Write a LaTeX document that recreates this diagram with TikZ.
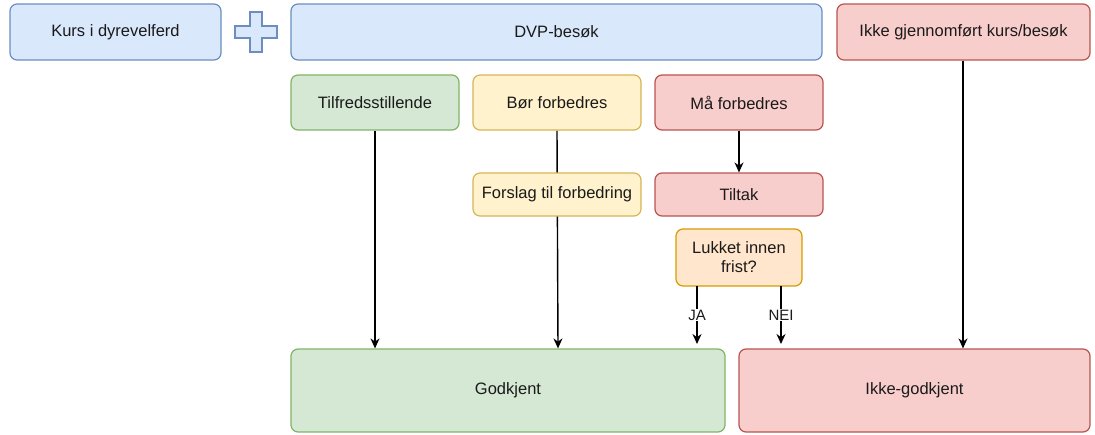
\documentclass[tikz,border=0pt]{standalone}
\usepackage{fontspec}
\setmainfont{Liberation Sans}
\usetikzlibrary{arrows.meta,backgrounds}
\definecolor{bfill}{HTML}{DAE8FC}\definecolor{bdraw}{HTML}{6C8EBF}
\definecolor{gfill}{HTML}{D5E8D4}\definecolor{gdraw}{HTML}{82B366}
\definecolor{yfill}{HTML}{FFF2CC}\definecolor{ydraw}{HTML}{D6B656}
\definecolor{rfill}{HTML}{F8CECC}\definecolor{rdraw}{HTML}{B85450}
\definecolor{ofill}{HTML}{FFE6CC}\definecolor{odraw}{HTML}{D79B00}
\definecolor{txt}{HTML}{1A1A1A}
\tikzset{
  box/.style={rectangle, rounded corners=7pt, line width=1.2pt, inner sep=0pt, align=center, text=txt,
    font=\fontsize{16.5}{19}\selectfont},
  blue/.style={box, fill=bfill, draw=bdraw},
  green/.style={box, fill=gfill, draw=gdraw},
  yellow/.style={box, fill=yfill, draw=ydraw},
  red/.style={box, fill=rfill, draw=rdraw},
  orange/.style={box, fill=ofill, draw=odraw},
  conn/.style={line width=1.4pt, draw=black, -{Stealth[length=10pt,width=9pt]}},
  lbl/.style={fill=white, inner sep=1pt, text=txt, font=\fontsize{15}{17}\selectfont}
}
\begin{document}
\begin{tikzpicture}[x=1pt,y=-1pt]
\useasboundingbox (0,0) rectangle (1095,434);
% top row
\node[blue, minimum width=211pt, minimum height=56pt] (kurs) at (115.5,32) {Kurs i dyrevelferd};
\path[fill=bfill, draw=bdraw, line width=1.2pt] (250,12) -- (262,12) -- (262,26) -- (277,26) -- (277,38) -- (262,38) -- (262,52) -- (250,52) -- (250,38) -- (235,38) -- (235,26) -- (250,26) -- cycle;
\node[blue, minimum width=531pt, minimum height=56pt] (dvp) at (556.5,32) {DVP-besøk};
\node[red, minimum width=253pt, minimum height=56pt] (ikkeg) at (963.5,32) {Ikke gjennomført kurs/besøk};
% second row
\node[green, minimum width=168pt, minimum height=55pt] (tilf) at (375,102.5) {Tilfredsstillende};
\node[yellow, minimum width=168pt, minimum height=55pt] (bor) at (557,102.5) {Bør forbedres};
\node[red, minimum width=168pt, minimum height=55pt] (maa) at (739,102.5) {Må forbedres};
% third row
\node[yellow, minimum width=168pt, minimum height=43pt] (forslag) at (557,194.5) {Forslag til forbedring};
\node[red, minimum width=168pt, minimum height=43pt] (tiltak) at (739,194.5) {Tiltak};
\node[orange, minimum width=126pt, minimum height=57pt] (lukket) at (739,257.5) {Lukket innen\\frist?};
% bottom
\node[green, minimum width=434pt, minimum height=83pt] (god) at (508,390.5) {Godkjent};
\node[red, minimum width=351pt, minimum height=83pt] (ikke) at (914.5,390.5) {Ikke-godkjent};
% free ends
\coordinate (jaS) at (697,286);
\coordinate (jaE) at (697,344);
\coordinate (neiS) at (781,286);
\coordinate (neiE) at (781,344);
\coordinate (ikx) at (963,0);
\begin{scope}[on background layer]
\draw[conn] (tilf.south) -- (tilf.south |- god.north);
\draw[conn] (bor.south) -- ([xshift=1pt]bor.south |- god.north);
\draw[conn] (ikx |- ikkeg.south) -- (ikx |- ikke.north);
\end{scope}
\draw[conn] (maa.south) -- (tiltak.north);
\draw[conn] (jaS) -- node[lbl, pos=0.5]{JA} (jaE);
\draw[conn] (neiS) -- node[lbl, pos=0.5]{NEI} (neiE);
\end{tikzpicture}
\end{document}
